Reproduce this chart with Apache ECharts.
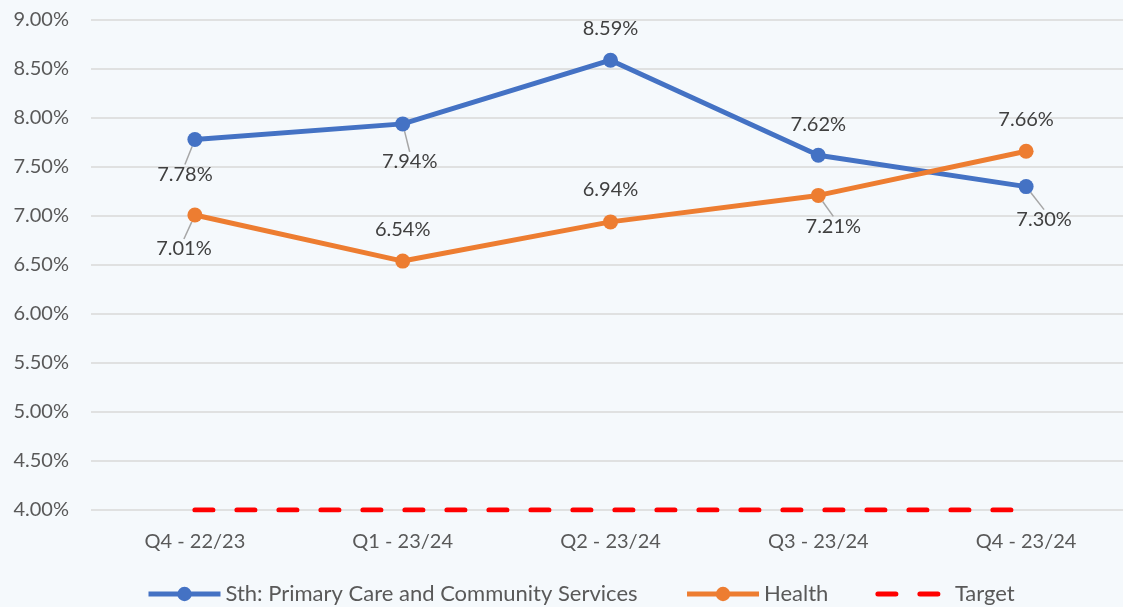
<!DOCTYPE html>
<html>
<head>
<meta charset="utf-8">
<script src="https://cdn.jsdelivr.net/npm/echarts@6/dist/echarts.min.js"></script>
<style>
html,body{margin:0;padding:0;background:#F5F9FC;}
#chart{width:1123px;height:607px;}
</style>
</head>
<body>
<div id="chart"></div>
<script>
const categories = ['Q4 - 22/23', 'Q1 - 23/24', 'Q2 - 23/24', 'Q3 - 23/24', 'Q4 - 23/24'];
const primaryCare = [7.78, 7.94, 8.59, 7.62, 7.30];
const health = [7.01, 6.54, 6.94, 7.21, 7.66];
const target = [4.00, 4.00, 4.00, 4.00, 4.00];
const seriesNames = ['Sth: Primary Care and Community Services', 'Health', 'Target'];

// label placement (styling, not data)
const primaryLabelOffsets = [[-10, 35], [7, 38], [0, -32], [0, -31], [18, 33]];
const healthLabelOffsets = [[-11, 34], [0, -32], [0, -32], [15, 31], [0, -32]];

function buildData(values, offsets) {
  return values.map((v, i) => ({
    value: v,
    labelLine: { show: offsets[i][1] > 0 }
  }));
}

const labelBase = {
  show: true,
  position: 'inside',
  fontFamily: 'Lato',
  fontSize: 20,
  color: '#404040',
  formatter: p => p.value.toFixed(2) + '%'
};

const chart = echarts.init(document.getElementById('chart'));
chart.setOption({
  backgroundColor: '#F5F9FC',
  animation: false,
  grid: { left: 91, width: 1039, top: 20, bottom: 97, containLabel: false, outerBoundsMode: 'none' },
  xAxis: {
    type: 'category',
    data: categories,
    boundaryGap: true,
    axisLine: { show: false },
    axisTick: { show: false },
    axisLabel: { margin: 22, fontFamily: 'Lato', fontSize: 20, color: '#595959' }
  },
  yAxis: {
    type: 'value',
    min: 4,
    max: 9,
    interval: 0.5,
    axisLine: { show: false },
    axisTick: { show: false },
    splitLine: { lineStyle: { color: '#D9D9D9', width: 1.5 } },
    axisLabel: { margin: 22, fontFamily: 'Lato', fontSize: 20, color: '#595959',
      formatter: v => v.toFixed(2) + '%' }
  },
  legend: {
    top: 583,
    left: 146,
    padding: 0,
    itemWidth: 72,
    itemHeight: 18,
    itemGap: 47,
    lineStyle: { width: 'inherit' },
    textStyle: { fontFamily: 'Lato', fontSize: 22, color: '#595959' },
    data: [
      { name: seriesNames[0] },
      { name: seriesNames[1] },
      { name: seriesNames[2], itemStyle: { opacity: 0 } }
    ]
  },
  series: [
    {
      name: seriesNames[0],
      type: 'line',
      data: buildData(primaryCare, primaryLabelOffsets),
      color: '#4472C4',
      lineStyle: { width: 5, color: '#4472C4' },
      symbol: 'circle',
      symbolSize: 15,
      itemStyle: { color: '#4472C4' },
      label: labelBase,
      labelLine: { show: false, lineStyle: { color: '#A6A6A6', width: 1.5 } },
      labelLayout: p => ({ dx: primaryLabelOffsets[p.dataIndex][0], dy: primaryLabelOffsets[p.dataIndex][1] }),
      z: 3
    },
    {
      name: seriesNames[1],
      type: 'line',
      data: buildData(health, healthLabelOffsets),
      color: '#ED7D31',
      lineStyle: { width: 5, color: '#ED7D31' },
      symbol: 'circle',
      symbolSize: 15,
      itemStyle: { color: '#ED7D31' },
      label: labelBase,
      labelLine: { show: false, lineStyle: { color: '#A6A6A6', width: 1.5 } },
      labelLayout: p => ({ dx: healthLabelOffsets[p.dataIndex][0], dy: healthLabelOffsets[p.dataIndex][1] }),
      z: 4
    },
    {
      name: seriesNames[2],
      type: 'line',
      data: target,
      color: '#FF0000',
      symbol: 'none',
      lineStyle: { width: 5, color: '#FF0000', type: [18, 24], cap: 'round' },
      z: 2
    }
  ]
});
</script>
</body>
</html>
